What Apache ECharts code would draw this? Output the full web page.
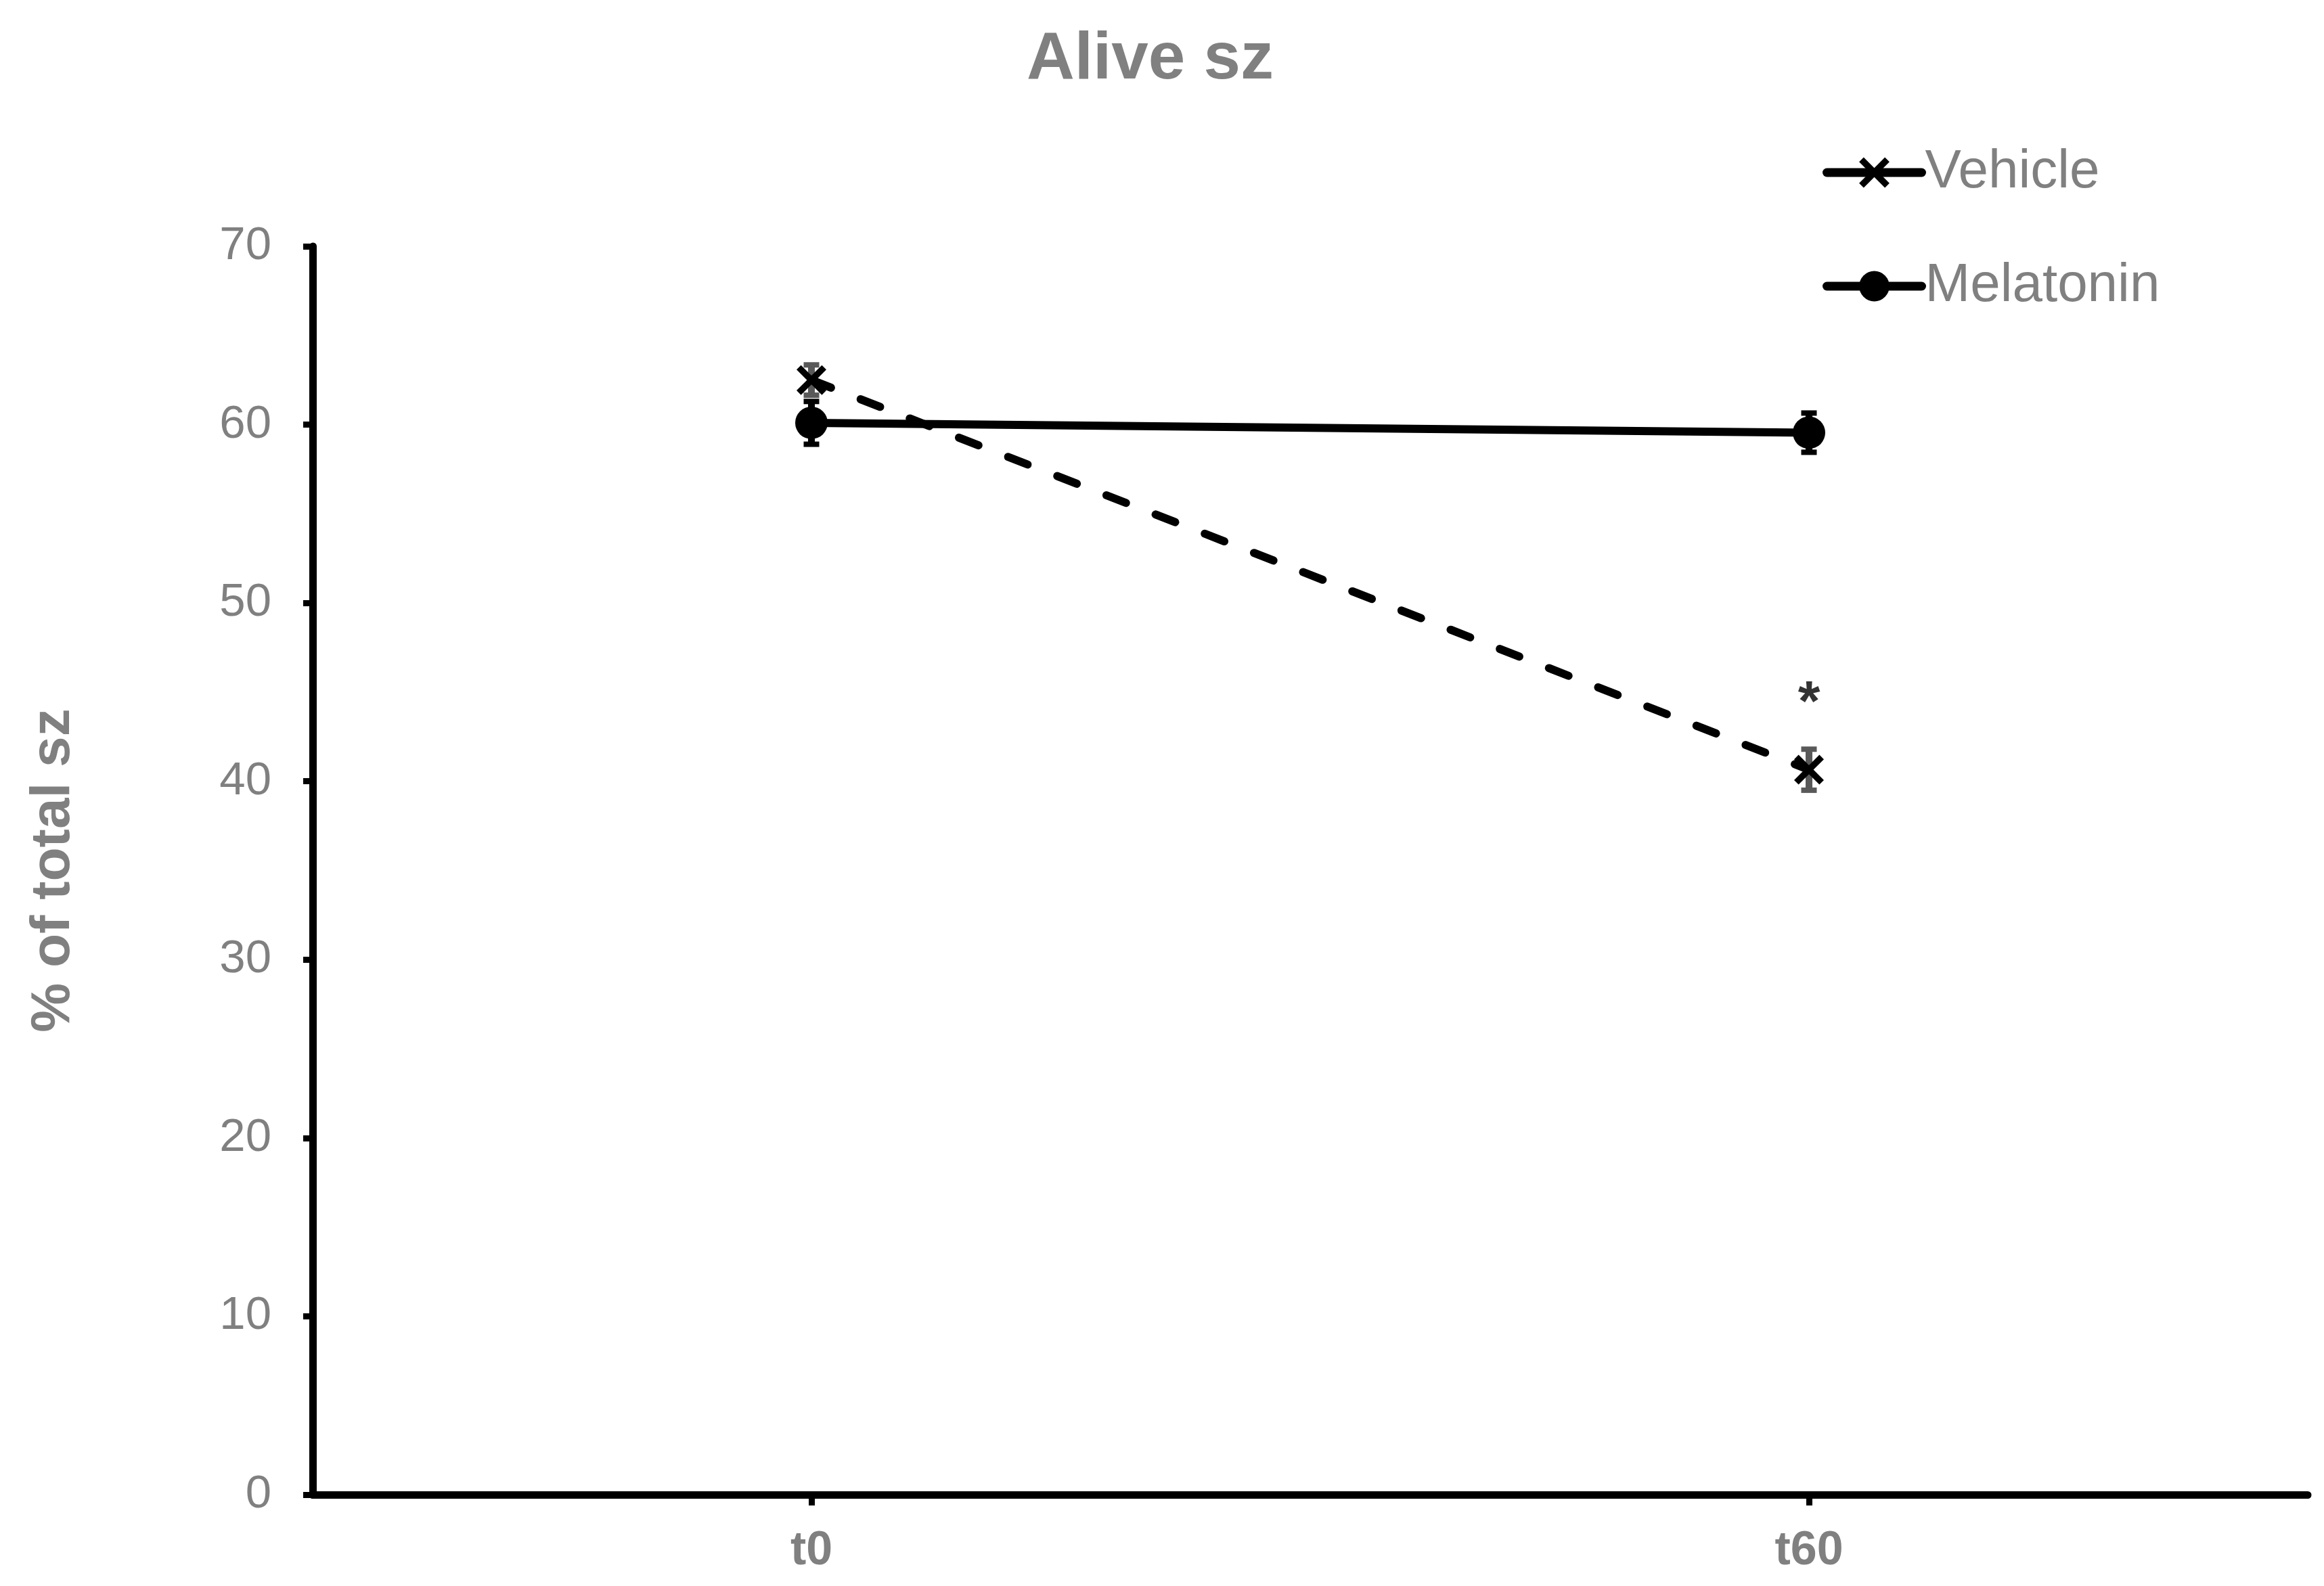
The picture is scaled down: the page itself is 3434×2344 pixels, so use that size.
<!DOCTYPE html>
<html>
<head>
<meta charset="utf-8">
<script src="https://cdn.jsdelivr.net/npm/echarts@6/dist/echarts.min.js"></script>
<style>
html,body{margin:0;padding:0;background:#fff;}
#chart{width:3434px;height:2344px;}
</style>
</head>
<body>
<div id="chart"></div>
<script>
// ---- data ----
const categories = ['t0', 't60'];
const vehicleMean = [62.5, 40.65];
const vehicleSE = [0.85, 1.15];
const melatoninMean = [60.1, 59.55];
const melatoninSE = [1.2, 1.1];
const yTicks = [0, 10, 20, 30, 40, 50, 60, 70];
const significance = [{ category: 't60', value: 44.3, text: '*' }];

const FONT = "'Liberation Sans', Arial, sans-serif";
const GRAY = '#808080';
const X_SYMBOL = 'path://M0,15L15,0L50,35L85,0L100,15L65,50L100,85L85,100L50,65L15,100L0,85L35,50Z';

function errorRender(color) {
  return function (params, api) {
    const xi = api.value(0), m = api.value(1), e = api.value(2);
    const top = api.coord([xi, m + e]);
    const bot = api.coord([xi, m - e]);
    const hw = 11.5;
    const st = { stroke: color, lineWidth: 10 };
    const cs = { stroke: color, lineWidth: 8 };
    return {
      type: 'group',
      children: [
        { type: 'line', shape: { x1: top[0], y1: top[1], x2: bot[0], y2: bot[1] }, style: st },
        { type: 'line', shape: { x1: top[0] - hw, y1: top[1], x2: top[0] + hw, y2: top[1] }, style: cs },
        { type: 'line', shape: { x1: bot[0] - hw, y1: bot[1], x2: bot[0] + hw, y2: bot[1] }, style: cs }
      ]
    };
  };
}

const chart = echarts.init(document.getElementById('chart'), null, { renderer: 'canvas' });
chart.setOption({
  animation: false,
  backgroundColor: '#ffffff',
  title: {
    text: 'Alive sz',
    left: 1512,
    top: 35,
    textStyle: { color: GRAY, fontSize: 98, fontWeight: 'bold', fontFamily: FONT }
  },
  legend: {
    orient: 'vertical',
    left: 2688,
    top: 210,
    itemWidth: 140,
    itemHeight: 56,
    itemGap: 88,
    data: ['Vehicle', 'Melatonin'],
    lineStyle: { type: 'solid', width: 13, cap: 'round' },
    textStyle: { color: GRAY, fontSize: 80, lineHeight: 80, fontFamily: FONT }
  },
  grid: { left: 462, right: 24, top: 364, bottom: 135, containLabel: false },
  xAxis: {
    type: 'category',
    data: categories,
    boundaryGap: true,
    axisLine: { show: true, lineStyle: { color: '#000', width: 11 } },
    axisTick: { show: true, alignWithLabel: true, length: 16, lineStyle: { color: '#000', width: 9 } },
    axisLabel: { color: GRAY, fontSize: 70, fontWeight: 'bold', fontFamily: FONT, margin: 49 },
    splitLine: { show: false }
  },
  yAxis: {
    type: 'value',
    min: yTicks[0],
    max: yTicks[yTicks.length - 1],
    interval: yTicks[1] - yTicks[0],
    name: '% of total sz',
    nameLocation: 'middle',
    nameRotate: 90,
    nameGap: 342,
    nameTextStyle: { color: GRAY, fontSize: 82, fontWeight: 'bold', fontFamily: FONT },
    axisLine: { show: true, lineStyle: { color: '#000', width: 11 } },
    axisTick: { show: true, inside: false, length: 14, lineStyle: { color: '#000', width: 9 } },
    axisLabel: { color: GRAY, fontSize: 69, fontFamily: FONT, margin: 61 },
    splitLine: { show: false }
  },
  series: [
    {
      name: 'VehicleErr',
      type: 'custom',
      z: 1,
      renderItem: errorRender('#595959'),
      data: categories.map((c, i) => [i, vehicleMean[i], vehicleSE[i]])
    },
    {
      name: 'MelatoninErr',
      type: 'custom',
      z: 1,
      renderItem: errorRender('#000000'),
      data: categories.map((c, i) => [i, melatoninMean[i], melatoninSE[i]])
    },
    {
      name: 'Melatonin',
      type: 'line',
      z: 3,
      data: melatoninMean,
      symbol: 'circle',
      symbolSize: 48,
      itemStyle: { color: '#000' },
      lineStyle: { color: '#000', width: 12, type: 'solid', cap: 'round' }
    },
    {
      name: 'Vehicle',
      type: 'line',
      z: 4,
      data: vehicleMean,
      symbol: X_SYMBOL,
      symbolSize: 44,
      itemStyle: { color: '#000' },
      lineStyle: { color: '#000', width: 12, type: [31, 47], cap: 'round' }
    },
    {
      name: 'Significance',
      type: 'scatter',
      z: 5,
      symbolSize: 1,
      itemStyle: { color: 'rgba(0,0,0,0)' },
      data: significance.map(s => [s.category, s.value]),
      label: {
        show: true,
        position: 'inside',
        formatter: (p) => significance[p.dataIndex].text,
        color: '#000',
        fontSize: 84,
        fontWeight: 'bold',
        fontFamily: FONT
      }
    }
  ]
});
</script>
</body>
</html>
